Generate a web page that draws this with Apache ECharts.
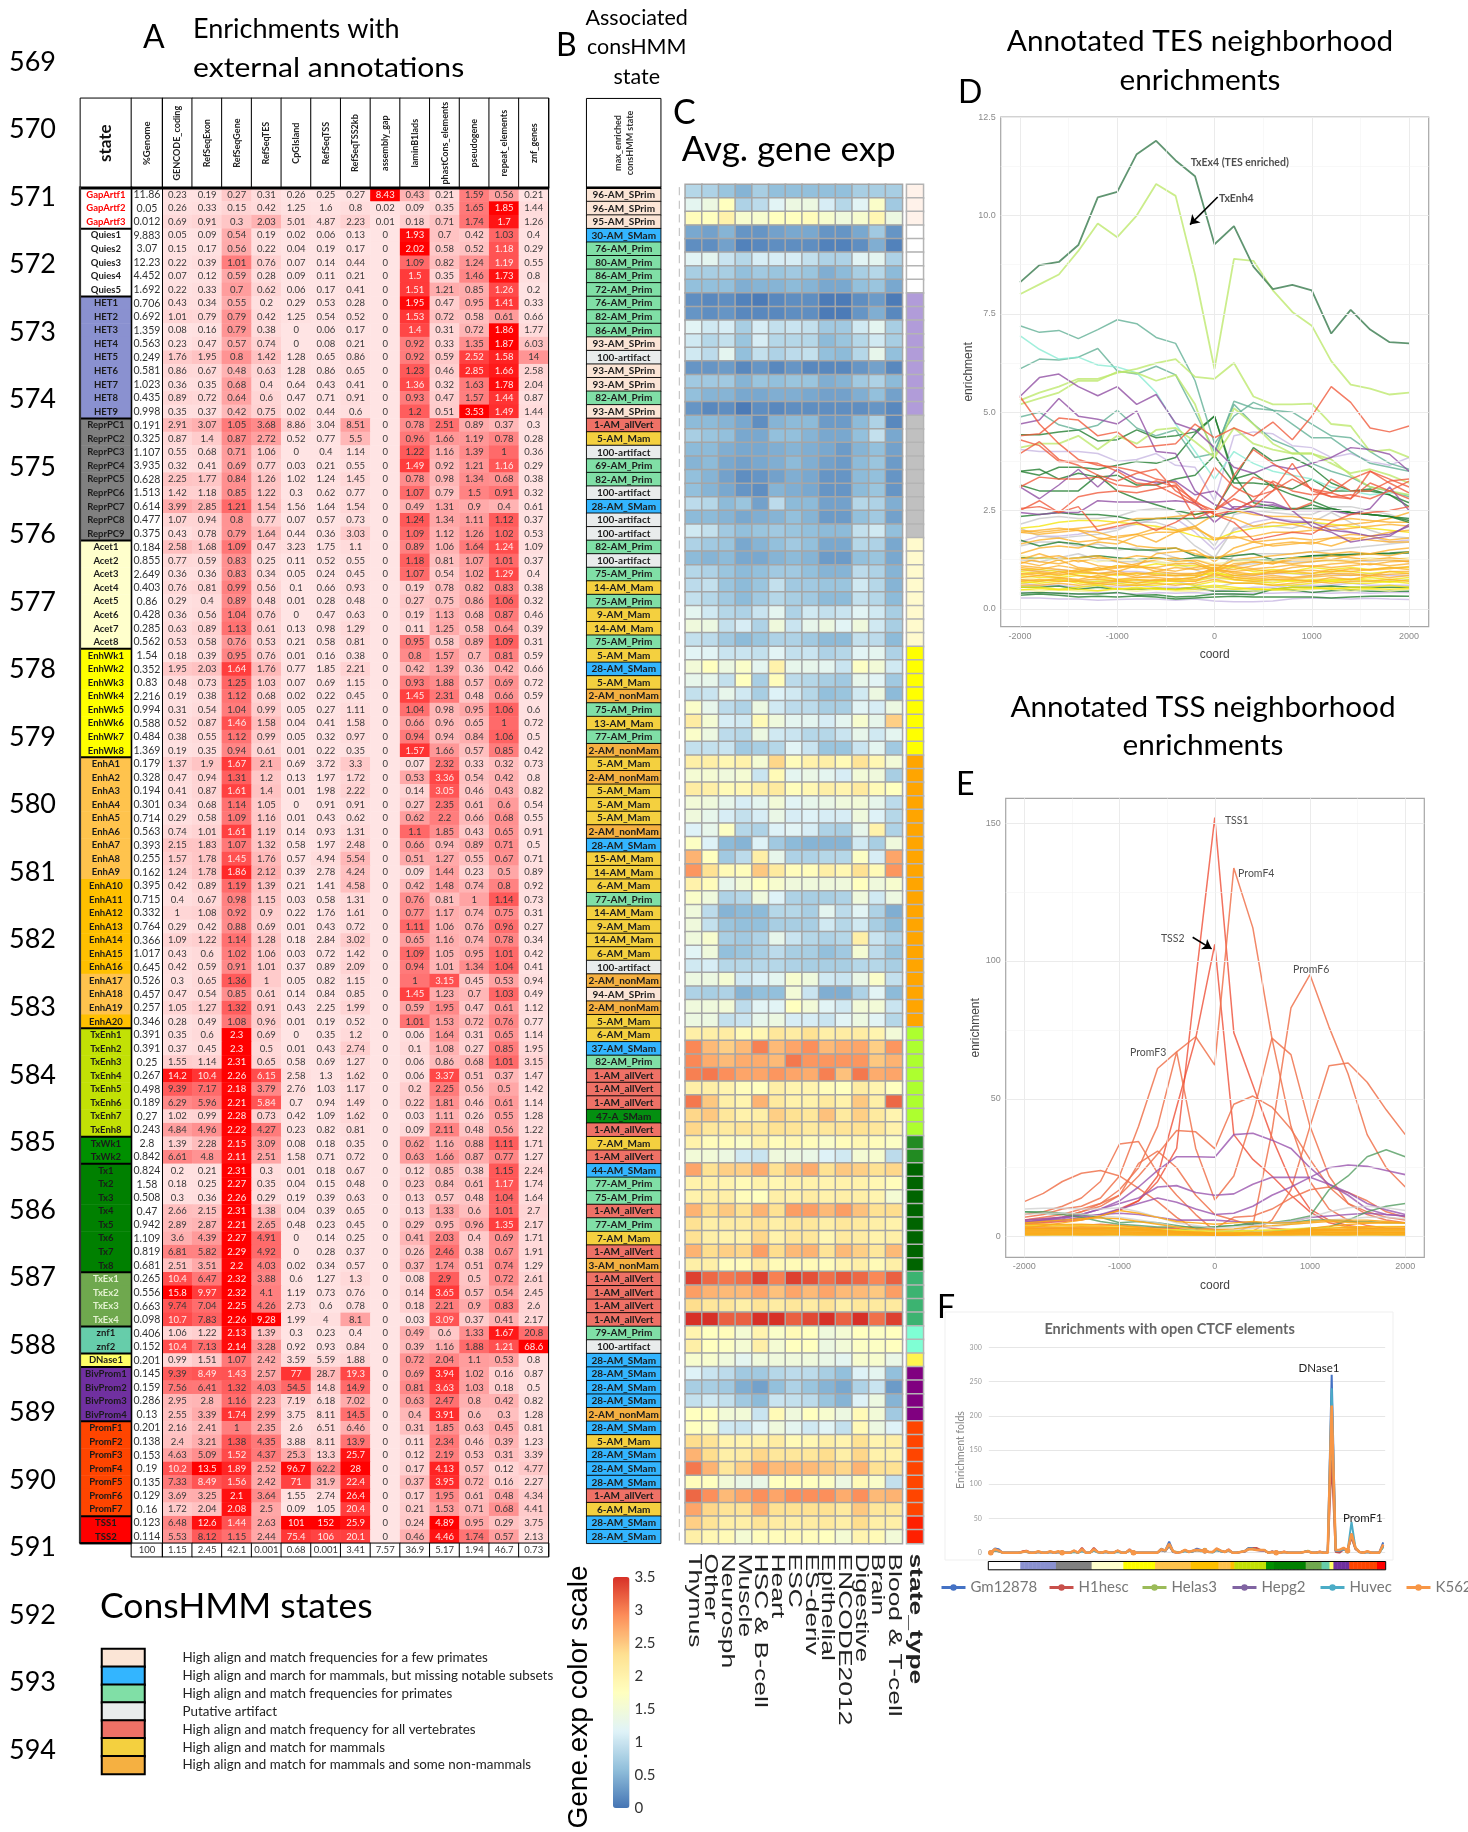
<!DOCTYPE html>
<html><head><meta charset="utf-8">
<style>html,body{margin:0;padding:0;background:#fff}#c{width:1468px;height:1832px}</style>
<script src="https://cdn.jsdelivr.net/npm/echarts@6/dist/echarts.min.js"></script>
</head><body><div id="c"></div>
<script>
const stateNames=["GapArtf1","GapArtf2","GapArtf3","Quies1","Quies2","Quies3","Quies4","Quies5","HET1","HET2","HET3","HET4","HET5","HET6","HET7","HET8","HET9","ReprPC1","ReprPC2","ReprPC3","ReprPC4","ReprPC5","ReprPC6","ReprPC7","ReprPC8","ReprPC9","Acet1","Acet2","Acet3","Acet4","Acet5","Acet6","Acet7","Acet8","EnhWk1","EnhWk2","EnhWk3","EnhWk4","EnhWk5","EnhWk6","EnhWk7","EnhWk8","EnhA1","EnhA2","EnhA3","EnhA4","EnhA5","EnhA6","EnhA7","EnhA8","EnhA9","EnhA10","EnhA11","EnhA12","EnhA13","EnhA14","EnhA15","EnhA16","EnhA17","EnhA18","EnhA19","EnhA20","TxEnh1","TxEnh2","TxEnh3","TxEnh4","TxEnh5","TxEnh6","TxEnh7","TxEnh8","TxWk1","TxWk2","Tx1","Tx2","Tx3","Tx4","Tx5","Tx6","Tx7","Tx8","TxEx1","TxEx2","TxEx3","TxEx4","znf1","znf2","DNase1","BivProm1","BivProm2","BivProm3","BivProm4","PromF1","PromF2","PromF3","PromF4","PromF5","PromF6","PromF7","TSS1","TSS2"];
const stateRuns=[["#FFFFFF",3],["#FFFFFF",5],["#8A91D0",9],["#808080",9],["#FFFFCC",8],["#FFFF00",8],["#FFC34D",9],["#FFC000",7],["#FFC34D",3],["#FFC000",1],["#C2E105",8],["#009000",2],["#008000",8],["#6FA84E",4],["#66CDAA",2],["#FFFF66",1],["#7030A0",4],["#FF4500",7],["#FF0000",2]];
const stateGroupSizes=[3,5,9,9,8,8,20,8,2,8,4,2,1,4,7,2];
const stateTypeRuns=[["#FFF2EA",3],["#FFFFFF",5],["#B19CD9",9],["#C0C0C0",9],["#FFFACD",8],["#FFFF00",8],["#FFA500",20],["#ADFF2F",8],["#228B22",2],["#006400",8],["#3CB371",4],["#7FFFD4",2],["#FFF44F",1],["#800080",4],["#FF4500",7],["#FF2000",2]];
const genomeColumn=["%Genome"];
const enrichColumns=["GENCODE_coding","RefSeqExon","RefSeqGene","RefSeqTES","CpGIsland","RefSeqTSS","RefSeqTSS2kb","assembly_gap","laminB1lads","phastCons_elements","pseudogene","repeat_elements","znf_genes"];
const enrichClip=[15.8,13.5,2.25,9.28,100,150,28,8.43,2.02,4.89,3.53,1.87,40];
const footerValues=[100,1.15,2.45,42.1,0.001,0.68,0.001,3.41,7.57,36.9,5.17,1.94,46.7,0.73];
const enrichRows=[
[11.86,.23,.19,.27,.31,.26,.25,.27,8.43,.43,.21,1.59,.56,.21],[.05,.26,.33,.15,.42,1.25,1.6,.8,.02,.09,.35,1.65,1.85,1.44],[.012,.69,.91,.3,2.03,5.01,4.87,2.23,.01,.18,.71,1.74,1.7,1.26],
[9.883,.05,.09,.54,.19,.02,.06,.13,0,1.93,.7,.42,1.03,.4],[3.07,.15,.17,.56,.22,.04,.19,.17,0,2.02,.58,.52,1.18,.29],[12.23,.22,.39,1.01,.76,.07,.14,.44,0,1.09,.82,1.24,1.19,.55],[4.452,.07,.12,.59,.28,.09,.11,.21,0,1.5,.35,1.46,1.73,.8],[1.692,.22,.33,.7,.62,.06,.17,.41,0,1.51,1.21,.85,1.26,.2],
[.706,.43,.34,.55,.2,.29,.53,.28,0,1.95,.47,.95,1.41,.33],[.692,1.01,.79,.79,.42,1.25,.54,.52,0,1.53,.72,.58,.61,.66],[1.359,.08,.16,.79,.38,0,.06,.17,0,1.4,.31,.72,1.86,1.77],[.563,.23,.47,.57,.74,0,.08,.21,0,.92,.33,1.35,1.87,6.03],[.249,1.76,1.95,.8,1.42,1.28,.65,.86,0,.92,.59,2.52,1.58,14],[.581,.86,.67,.48,.63,1.28,.86,.65,0,1.23,.46,2.85,1.66,2.58],[1.023,.36,.35,.68,.4,.64,.43,.41,0,1.36,.32,1.63,1.78,2.04],[.435,.89,.72,.64,.6,.47,.71,.91,0,.93,.47,1.57,1.44,.87],[.998,.35,.37,.42,.75,.02,.44,.6,0,1.2,.51,3.53,1.49,1.44],
[.191,2.91,3.07,1.05,3.68,8.86,3.04,8.51,0,.78,2.51,.89,.37,.3],[.325,.87,1.4,.87,2.72,.52,.77,5.5,0,.96,1.66,1.19,.78,.28],[1.107,.55,.68,.71,1.06,0,.4,1.14,0,1.22,1.16,1.39,1,.36],[3.935,.32,.41,.69,.77,.03,.21,.55,0,1.49,.92,1.21,1.16,.29],[.628,2.25,1.77,.84,1.26,1.02,1.24,1.45,0,.78,.98,1.34,.68,.38],[1.513,1.42,1.18,.85,1.22,.3,.62,.77,0,1.07,.79,1.5,.91,.32],[.614,3.99,2.85,1.21,1.54,1.56,1.64,1.54,0,.49,1.31,.9,.4,.61],[.477,1.07,.94,.8,.77,.07,.57,.73,0,1.24,1.34,1.11,1.12,.37],[.375,.43,.78,.79,1.64,.44,.36,3.03,0,1.09,1.12,1.26,1.02,.53],
[.184,2.58,1.68,1.09,.47,3.23,1.75,1.1,0,.89,1.06,1.64,1.24,1.09],[.855,.77,.59,.83,.25,.11,.52,.55,0,1.18,.81,1.07,1.01,.37],[2.649,.36,.36,.83,.34,.05,.24,.45,0,1.07,.54,1.02,1.29,.4],[.403,.76,.81,.99,.56,.1,.66,.93,0,.19,.78,.82,.83,.38],[.86,.29,.4,.89,.48,.01,.28,.48,0,.27,.75,.86,1.06,.32],[.428,.36,.56,1.04,.76,0,.47,.63,0,.19,1.13,.68,.87,.46],[.285,.63,.89,1.13,.61,.13,.98,1.29,0,.11,1.25,.58,.64,.39],[.562,.53,.58,.76,.53,.21,.58,.81,0,.95,.58,.89,1.09,.31],
[1.54,.18,.39,.95,.76,.01,.16,.38,0,.8,1.57,.7,.81,.59],[.352,1.95,2.03,1.64,1.76,.77,1.85,2.21,0,.42,1.39,.36,.42,.66],[.83,.48,.73,1.25,1.03,.07,.69,1.15,0,.93,1.88,.57,.69,.72],[2.216,.19,.38,1.12,.68,.02,.22,.45,0,1.45,2.31,.48,.66,.59],[.994,.31,.54,1.04,.99,.05,.27,1.11,0,1.04,.98,.95,1.06,.6],[.588,.52,.87,1.46,1.58,.04,.41,1.58,0,.66,.96,.65,1,.72],[.484,.38,.55,1.12,.99,.05,.32,.97,0,.94,.94,.84,1.06,.5],[1.369,.19,.35,.94,.61,.01,.22,.35,0,1.57,1.66,.57,.85,.42],
[.179,1.37,1.9,1.67,2.1,.69,3.72,3.3,0,.07,2.32,.33,.32,.73],[.328,.47,.94,1.31,1.2,.13,1.97,1.72,0,.53,3.36,.54,.42,.8],[.194,.41,.87,1.61,1.4,.01,1.98,2.22,0,.14,3.05,.46,.43,.82],[.301,.34,.68,1.14,1.05,0,.91,.91,0,.27,2.35,.61,.6,.54],[.714,.29,.58,1.09,1.16,.01,.43,.62,0,.62,2.2,.66,.68,.55],[.563,.74,1.01,1.61,1.19,.14,.93,1.31,0,1.1,1.85,.43,.65,.91],[.393,2.15,1.83,1.07,1.32,.58,1.97,2.48,0,.66,.94,.89,.71,.5],[.255,1.57,1.78,1.45,1.76,.57,4.94,5.54,0,.51,1.27,.55,.67,.71],[.162,1.24,1.78,1.86,2.12,.39,2.78,4.24,0,.09,1.44,.23,.5,.89],[.395,.42,.89,1.19,1.39,.21,1.41,4.58,0,.42,1.48,.74,.8,.92],[.715,.4,.67,.98,1.15,.03,.58,1.31,0,.76,.81,1,1.14,.73],[.332,1,1.08,.92,.9,.22,1.76,1.61,0,.77,1.17,.74,.75,.31],[.764,.29,.42,.88,.69,.01,.43,.72,0,1.11,1.06,.76,.96,.27],[.366,1.09,1.22,1.14,1.28,.18,2.84,3.02,0,.65,1.16,.74,.78,.34],[1.017,.43,.6,1.02,1.06,.03,.72,1.42,0,1.09,1.05,.95,1.01,.42],[.645,.42,.59,.91,1.01,.37,.89,2.09,0,.94,1.01,1.34,1.04,.41],[.526,.3,.65,1.36,1,.05,.82,1.15,0,1,3.15,.45,.53,.94],[.457,.47,.54,.85,.61,.14,.84,.85,0,1.45,1.23,.7,1.03,.49],[.257,1.05,1.27,1.32,.91,.43,2.25,1.99,0,.59,1.95,.47,.61,1.12],[.346,.28,.49,1.08,.96,.01,.19,.52,0,1.01,1.53,.72,.76,.77],
[.391,.35,.6,2.3,.69,0,.35,1.2,0,.06,1.64,.31,.65,1.14],[.391,.37,.45,2.3,.5,.01,.43,2.74,0,.1,1.08,.27,.85,1.95],[.25,1.55,1.14,2.31,.65,.58,.69,1.27,0,.06,.86,.68,1.01,3.15],[.267,14.2,10.4,2.26,6.15,2.58,1.3,1.62,0,.06,3.37,.51,.37,1.47],[.498,9.39,7.17,2.18,3.79,2.76,1.03,1.17,0,.2,2.25,.56,.5,1.42],[.189,6.29,5.96,2.21,5.84,.7,.94,1.49,0,.22,1.81,.46,.61,1.14],[.27,1.02,.99,2.28,.73,.42,1.09,1.62,0,.03,1.11,.26,.55,1.28],[.243,4.84,4.96,2.22,4.27,.23,.82,.81,0,.09,2.11,.48,.56,1.22],
[2.8,1.39,2.28,2.15,3.09,.08,.18,.35,0,.62,1.16,.88,1.11,1.71],[.842,6.61,4.8,2.11,2.51,1.58,.71,.72,0,.63,1.66,.87,.77,1.27],
[.824,.2,.21,2.31,.3,.01,.18,.67,0,.12,.85,.38,1.15,2.24],[1.58,.18,.25,2.27,.35,.04,.15,.48,0,.23,.84,.61,1.17,1.74],[.508,.3,.36,2.26,.29,.19,.39,.63,0,.13,.57,.48,1.04,1.64],[.47,2.66,2.15,2.31,1.38,.04,.39,.65,0,.13,1.33,.6,1.01,2.7],[.942,2.89,2.87,2.21,2.65,.48,.23,.45,0,.29,.95,.96,1.35,2.17],[1.109,3.6,4.39,2.27,4.91,0,.14,.25,0,.41,2.03,.4,.69,1.71],[.819,6.81,5.82,2.29,4.92,0,.28,.37,0,.26,2.46,.38,.67,1.91],[.681,2.51,3.51,2.2,4.03,.02,.34,.57,0,.37,1.74,.51,.74,1.29],
[.265,10.4,6.47,2.32,3.88,.6,1.27,1.3,0,.08,2.9,.5,.72,2.61],[.556,15.8,9.97,2.32,4.1,1.19,.73,.76,0,.14,3.65,.57,.54,2.45],[.663,9.74,7.04,2.25,4.26,2.73,.6,.78,0,.18,2.21,.9,.83,2.6],[.098,10.7,7.83,2.26,9.28,1.99,4,8.1,0,.03,3.09,.37,.41,2.17],
[.406,1.06,1.22,2.13,1.39,.3,.23,.4,0,.49,.6,1.33,1.67,20.8],[.152,10.4,7.13,2.14,3.28,.92,.93,.84,0,.39,1.16,1.88,1.21,68.6],[.201,.99,1.51,1.07,2.42,3.59,5.59,1.88,0,.72,2.04,1.1,.53,.8],
[.145,9.39,8.49,1.43,2.57,77,28.7,19.3,0,.69,3.94,1.02,.16,.87],[.159,7.56,6.41,1.32,4.03,54.5,14.8,14.9,0,.81,3.63,1.03,.18,.5],[.286,2.95,2.8,1.16,2.23,7.19,6.18,7.02,0,.63,2.47,.8,.42,.82],[.13,2.55,3.39,1.74,2.99,3.75,8.11,14.5,0,.4,3.91,.6,.3,1.28],
[.201,2.16,2.41,1,2.35,2.6,6.51,6.46,0,.31,1.85,.63,.45,.81],[.138,2.4,3.21,1.38,4.35,3.88,8.11,13.9,0,.11,2.34,.46,.39,1.23],[.153,4.63,5.09,1.52,4.37,25.3,13.3,25.7,0,.12,2.19,.53,.31,3.39],[.19,10.2,13.5,1.89,2.52,96.7,62.2,28,0,.17,4.13,.57,.12,4.77],[.135,7.33,8.49,1.56,2.42,71,31.9,22.4,0,.37,3.95,.72,.16,2.27],[.129,3.69,3.25,2.1,3.64,1.55,2.74,26.4,0,.17,1.95,.61,.48,4.34],[.16,1.72,2.04,2.08,2.5,.09,1.05,20.4,0,.21,1.53,.71,.68,4.41],
[.123,6.48,12.6,1.44,2.63,101,152,25.9,0,.24,4.89,.95,.29,3.75],[.114,5.53,8.12,1.15,2.44,75.4,106,20.1,0,.46,4.46,1.74,.57,2.13]];
const consLabels=["96-AM_SPrim","96-AM_SPrim","95-AM_SPrim","30-AM_SMam","76-AM_Prim","80-AM_Prim","86-AM_Prim","72-AM_Prim","76-AM_Prim","82-AM_Prim","86-AM_Prim","93-AM_SPrim","100-artifact","93-AM_SPrim","93-AM_SPrim","82-AM_Prim","93-AM_SPrim","1-AM_allVert","5-AM_Mam","100-artifact","69-AM_Prim","82-AM_Prim","100-artifact","28-AM_SMam","100-artifact","100-artifact","82-AM_Prim","100-artifact","75-AM_Prim","14-AM_Mam","75-AM_Prim","9-AM_Mam","14-AM_Mam","75-AM_Prim","5-AM_Mam","28-AM_SMam","5-AM_Mam","2-AM_nonMam","75-AM_Prim","13-AM_Mam","77-AM_Prim","2-AM_nonMam","5-AM_Mam","2-AM_nonMam","5-AM_Mam","5-AM_Mam","5-AM_Mam","2-AM_nonMam","28-AM_SMam","15-AM_Mam","14-AM_Mam","6-AM_Mam","77-AM_Prim","14-AM_Mam","9-AM_Mam","14-AM_Mam","6-AM_Mam","100-artifact","2-AM_nonMam","94-AM_SPrim","2-AM_nonMam","5-AM_Mam","6-AM_Mam","37-AM_SMam","82-AM_Prim","1-AM_allVert","1-AM_allVert","1-AM_allVert","47-A_SMam","1-AM_allVert","7-AM_Mam","1-AM_allVert","44-AM_SMam","77-AM_Prim","75-AM_Prim","1-AM_allVert","77-AM_Prim","7-AM_Mam","1-AM_allVert","3-AM_nonMam","1-AM_allVert","1-AM_allVert","1-AM_allVert","1-AM_allVert","79-AM_Prim","100-artifact","28-AM_SMam","28-AM_SMam","28-AM_SMam","28-AM_SMam","2-AM_nonMam","28-AM_SMam","5-AM_Mam","28-AM_SMam","28-AM_SMam","28-AM_SMam","1-AM_allVert","6-AM_Mam","28-AM_SMam","28-AM_SMam"];
const consSuffixColors={SPrim:"#FBE5D6",SMam:"#33B5FF",Prim:"#80DFA6",artifact:"#E9ECEC",allVert:"#EE7166",Mam:"#F4D03F",nonMam:"#F5B041"};
const consLegendText=["High align and match frequencies for a few primates","High align and march for mammals, but missing notable subsets","High align and match frequencies for primates","Putative artifact","High align and match frequency for all vertebrates","High align and match for mammals","High align and match for mammals and some non-mammals"];
const consLegendColors=["#FBE5D6","#33B5FF","#80DFA6","#E9ECEC","#EE7166","#F4D03F","#F5B041"];
const expColumns=["Thymus","Other","Neurosph","Muscle","HSC & B-cell","Heart","ESC","ES-deriv","Epithelial","ENCODE2012","Digestive","Brain","Blood & T-cell"];
const geneExp=[
[.85,.8,.65,.5,.75,.6,.6,.6,.6,.6,.75,.75,.75],[1.25,1.4,1.75,.8,.9,1.2,1.4,1.4,1.1,.85,1.2,1.65,.7],[1.8,1.75,2,1.6,1.6,1.75,1.75,1.8,1.6,1.45,1.6,1.9,1.4],
[.4,.35,.5,.25,.25,.35,.4,.4,.25,.25,.4,.7,.25],[.2,.2,.35,.1,.15,.2,.2,.2,.1,.1,.2,.45,.1],[1.2,1.25,1,.85,1.1,1.1,1.1,.95,.8,.8,1.2,1.25,.8],[.75,.75,.75,.6,.7,.65,.7,.65,.45,.55,.75,.85,.55],[.6,.6,.6,.45,.5,.5,.55,.5,.4,.4,.6,.65,.4],
[.2,.15,.2,.1,.05,.15,.2,.2,.05,.05,.2,.3,.05],[.25,.2,.25,.15,.15,.15,.2,.2,.05,.05,.25,.45,.15],[1.2,1.05,1.1,.75,1.1,.95,1,.95,.7,.7,1.05,1.25,.75],[1.05,.85,.95,.65,1.1,.85,.85,.85,.55,.65,.85,1.05,.75],[1.05,.9,1.25,.6,.95,.8,.9,.95,.6,.55,.85,1.3,.6],[.25,.25,.3,.15,.25,.15,.25,.15,.15,.15,.25,.35,.15],[.7,.7,.7,.5,.65,.6,.65,.65,.45,.5,.7,.8,.55],[.6,.5,.5,.4,.4,.45,.45,.4,.35,.35,.45,.6,.35],[.25,.15,.2,.05,.2,.15,.2,.2,.2,.2,.2,.25,.15],
[.55,.55,.5,.4,.2,.5,.55,.55,.3,.3,.55,.8,.15],[.75,.65,.6,.4,.4,.6,.6,.5,.4,.4,.6,.95,.4],[.55,.55,.45,.4,.4,.45,.5,.45,.4,.3,.5,.6,.35],[.5,.55,.4,.35,.4,.45,.55,.45,.35,.3,.55,.65,.3],[.6,.5,.35,.2,.25,.35,.45,.4,.25,.25,.55,.6,.25],[.6,.5,.4,.25,.2,.5,.45,.4,.25,.25,.55,.65,.25],[.9,.85,.55,.65,.35,.9,.55,.55,.35,.35,.85,.8,.45],[.55,.55,.5,.4,.45,.5,.6,.5,.3,.3,.6,.7,.35],[1.05,.95,.7,.6,.65,.7,.65,.6,.55,.55,.95,1.05,.6],
[.8,.7,.65,.4,.5,.6,.7,.6,.4,.4,.85,.8,.4],[.55,.5,.55,.4,.4,.5,.55,.5,.3,.3,.6,.65,.4],[.85,.8,.65,.55,.6,.7,.7,.6,.5,.5,.9,.8,.5],[.9,.95,.65,.55,.65,.95,.7,.7,.65,.65,1.05,.85,.5],[.95,.85,.7,.55,.7,.85,.75,.7,.55,.55,.95,.85,.55],[1.25,1.05,.85,.8,1,1.25,.8,1.05,.95,1,1.2,1.05,.75],[1.45,1.4,.95,1.1,.8,1.45,1,1.3,1.4,1.2,1.45,1.05,.75],[.95,.9,.7,.55,.65,.8,.8,.7,.55,.55,.95,.9,.55],
[1.2,1.2,1,1,.95,1.2,.95,1,.8,.85,1.2,1.25,.8],[1.5,1.75,1.4,1.65,1.25,2,1.3,1.3,1.25,1,1.7,1.5,1.05],[1.3,1.3,.95,1.75,.75,1.8,.9,.85,.75,.7,1.3,1.2,.7],[.95,1,1.3,1.05,.75,1.15,1.05,.85,.6,.65,1.05,1.4,.55],[1.65,1.3,.9,.8,1.4,1.05,.9,.9,.75,.75,1.2,1.1,1.4],[2.1,1.55,1.1,1.05,1.85,1.45,1.25,1.25,1.1,1.25,1.6,1.3,2.45],[1.65,1.4,.9,.85,1.4,1.05,1,.85,.85,1,1.3,1.05,1.25],[.95,.95,1,.7,.75,.85,1.2,1,.65,.65,1,1.25,.7],
[2.05,2.05,1.9,2,1.55,2.4,1.8,2,2.05,1.85,2.25,1.9,1.5],[1.55,1.55,1.45,1.55,1,1.85,1.25,1.35,1.25,1.1,1.5,1.45,.75],[2.1,2.05,1.85,1.9,2.05,2.15,1.8,1.9,2.05,1.95,2.15,1.85,1.75],[1.5,1.45,1.3,1.1,1.25,1.5,1.2,1.3,1.35,1.45,1.5,1.3,.9],[1.45,1.3,1.1,.95,1.1,1.35,1.1,1.15,1.1,1.1,1.45,1.15,.85],[1.15,1.3,1.7,.85,.8,1.15,1.2,1.1,.8,.75,1.3,2,.8],[1.7,1.15,.55,.5,1.15,.7,.55,.5,.5,.5,1.05,.75,1.45],[2.65,1.75,.7,.9,2.05,1.3,.8,.8,.85,.85,1.7,1.1,2.75],[2.85,2.3,1.85,1.8,2.5,2.15,1.8,1.8,2.05,1.9,2.3,1.85,2.85],[2,1.8,1.3,1.5,1.75,1.6,1.45,1.45,1.45,1.45,1.75,1.45,1.6],[1.65,1.45,.8,.85,1.45,1.15,.8,.75,.75,.8,1.45,1.05,1.4],[1.45,.9,.5,.55,.55,.85,.85,.75,1.25,.9,1.2,.8,.45],[1.45,.95,.65,.6,.6,.75,.75,.75,1.05,.85,1.05,.75,.55],[1.45,1.6,.75,.7,.8,1.3,1,.85,.8,.85,2.05,1,.8],[1.2,1.45,.6,.65,.75,.9,.75,.75,.6,.7,1.55,.9,.65],[1.05,1.1,.85,.85,.85,.85,.8,.75,.75,.75,.85,.85,.75],[1.4,1.4,1.55,1.05,1.15,1.25,1.6,1.45,1.05,1,1.35,1.65,.95],[.8,.75,.8,.5,.6,.6,1.5,1,.45,.45,.8,1.2,.55],[1.45,1.45,1.5,.9,1.2,1.2,1.75,1.5,1.2,1.05,1.5,1.5,1],[1.4,1.4,.95,1,1.3,1.4,1.1,1.1,1,1.2,1.4,1.2,.85],
[2.05,2.05,2.1,1.85,1.9,2.2,2.1,2.3,2.05,2.1,2.1,1.95,1.5],[2.95,2.6,2.45,2.6,3,2.6,2.75,2.9,2.6,2.7,2.75,2.45,2.85],[2.95,2.7,2.6,2.7,2.7,2.6,3.05,2.85,2.85,2.85,2.85,2.5,2.65],[3,3.05,2.9,2.75,2.75,2.85,2.75,2.7,3,2.55,3.05,2.7,2.75],[2.05,2.05,1.95,1.8,1.75,2.05,1.95,1.95,1.8,1.75,2.1,1.95,1.75],[3.05,2.5,2.05,1.95,2.65,2.15,2,2,2.15,2,2.5,2.05,3.15],[2.4,2.5,2.2,2,2.05,2.45,2.3,2.2,2.55,2.15,2.45,2.15,1.95],[2.4,2.2,2.15,2.25,2.2,2.3,2.25,2.15,2.2,2.25,2.3,2.2,2],
[2,1.8,1.8,1.65,2,1.8,1.9,1.8,1.65,1.8,1.9,1.8,1.7],[1.5,1.5,1.4,1.05,1,1.45,1.4,1.35,1.15,1.05,1.55,1.6,.9],
[2.75,2.3,2.45,2.45,2.7,2.3,2.55,2.7,2.3,2.5,2.45,2.3,2.4],[2,2,1.95,1.85,2,1.9,2,2,1.95,2,2,1.9,1.8],[2,2.05,2.05,1.8,1.75,2.05,2,2.1,2,2.05,2.05,1.95,1.55],[2.65,2.35,2.5,2.3,2.65,2.3,2.8,2.8,2.6,2.8,2.55,2.3,2.35],[2.3,2.05,2.1,2.1,2.25,2.05,2.2,2.2,2.05,2.2,2.15,2.05,2],[2.3,2.05,2,2,2.4,2,2.2,2.2,1.9,2.15,2.1,2,2.05],[2.65,2.35,2.45,2.4,2.8,2.35,2.6,2.65,2.25,2.6,2.45,2.2,2.6],[2.05,2.05,1.8,1.8,2.1,1.85,1.85,1.85,1.8,1.95,2.05,1.85,2.05],
[3.4,3.15,3.05,3.1,3.4,3,3.4,3.3,3.1,3.25,3.15,2.95,3.2],[2.8,2.65,2.6,2.6,2.75,2.55,2.75,2.6,2.75,2.6,2.6,2.5,2.8],[2.35,2.2,2.2,2.05,2.25,2.1,2.2,2.1,2.25,2.05,2.2,2.15,2.15],[3.5,3.5,3.2,3.2,3.5,3.5,3.2,3.35,3.5,3.2,3.5,3.1,3.4],
[1.95,1.75,1.8,1.55,1.95,1.65,1.85,1.75,1.45,1.55,1.75,1.7,1.75],[2.05,1.75,1.7,1.55,2.05,1.55,1.75,1.75,1.4,1.5,1.7,1.7,1.75],[1.6,1.6,1.45,1.25,1.45,1.45,1.45,1.45,1.35,1.25,1.6,1.6,1.35],
[1.15,1,.9,.7,.7,.85,.9,.9,.75,.6,1.15,1.25,.6],[.75,.75,.7,.45,.35,.6,.8,.65,.5,.4,.8,1,.3],[.95,1.05,.95,.7,.55,1,.95,.9,.65,.5,1.15,1.4,.5],[1.75,1.75,1.5,1.5,1,1.85,1.45,1.75,1.6,1.4,1.85,1.5,.7],
[1.75,1.65,1.05,1,1.2,1.45,1.25,1.05,1.2,.95,1.85,1.4,1.15],[2.35,2.25,1.95,1.95,2,2.1,1.85,1.9,2.05,1.95,2.3,1.95,2.05],[2.65,2.35,2.05,2.1,2.4,2.2,2.2,2.2,2.35,2.05,2.4,2,2],[3.05,2.65,2.2,2.45,2.75,2.6,2.6,2.6,2.5,2.4,2.65,2.3,2.3],[1.8,1.75,1.5,1.35,1.35,1.75,1.75,1.75,1.7,1.4,1.85,1.65,.95],[3.15,2.9,2.6,2.75,2.9,2.75,2.9,2.9,2.9,2.7,2.9,2.6,2.65],[2.75,2.4,2.25,2.25,2.65,2.3,2.3,2.3,2.3,2.15,2.5,2.2,2.2],
[2.45,2.25,2.05,2.05,2.25,2.1,2.05,2.1,2.15,2.05,2.35,2.05,2.05],[2.05,1.9,1.85,1.55,1.8,1.8,1.85,1.8,1.75,1.55,1.95,1.85,1.5]];
const expPalette=["#4575B4","#91BFDB","#E0F3F8","#FFFFBF","#FEE090","#FC8D59","#D73027"];
const neighborhoodCoords=[-2000,-1800,-1600,-1400,-1200,-1000,-800,-600,-400,-200,0,200,400,600,800,1000,1200,1400,1600,1800,2000];
/* D: TES neighborhood enrichments */
const tesLavender=[[4.05,4,4,4,3.95,3.75,3.8,3.95,3.65,3.6,2.75,4.4,4.5,4.45,4.15,4.1,3.85,3.95,3.75,3.65,3.85],[1.7,1.85,1.85,1.9,2,2.05,2.15,2.3,2.3,1.95,1.5,2,2.2,2.3,2.25,2.2,2.1,1.95,1.85,1.7,1.75],[.65,.6,.6,.55,.6,.55,.6,.55,.55,.5,.45,.5,.55,.55,.6,.6,.6,.65,.6,.6,.6],[.28,.28,.25,.25,.22,.24,.25,.25,.22,.25,.2,.18,.18,.2,.26,.28,.27,.25,.27,.25,.24],[.42,.42,.4,.38,.42,.4,.38,.42,.4,.42,.38,.38,.4,.4,.42,.42,.4,.42,.4,.42,.42],[1,.95,1,.95,.9,.95,.95,.9,.9,.85,.75,.85,.85,.9,.9,.85,.9,.85,.9,.85,.85]];
const tesGrey=[[2.05,1.85,1.8,1.85,1.9,2,2.2,2.2,2.05,1.6,1.3,2.05,2.1,2.1,2.05,2.2,2.45,2.2,2,1.85,1.8],[2.15,2.3,2.35,2.3,2.3,2.35,2.5,2.55,2.5,2.1,1.6,2.4,2.5,2.45,2.4,2.4,2.6,2.6,2.5,2.4,2.25],[1.6,1.7,1.7,1.6,1.65,1.5,1.55,1.45,1.3,1.15,.95,1.35,1.4,1.4,1.4,1.45,1.5,1.55,1.6,1.65,1.7],[1.25,1.2,1.3,1.4,1.25,1.2,1.2,1.2,1.15,1,.8,1.1,1.15,1.2,1.2,1.2,1.25,1.25,1.2,1.25,1.2],[.75,.7,.75,.7,.7,.65,.7,.7,.7,.6,.55,.65,.65,.7,.75,.7,.75,.75,.7,.7,.75]];
const tesDarkGreenLow=[[.4,.42,.4,.38,.38,.42,.35,.36,.3,.32,.38,.38,.36,.5,.48,.42,.46,.48,.45,.45,.45],[.35,.38,.35,.3,.32,.3,.33,.3,.25,.28,.3,.32,.3,.3,.3,.3,.28,.3,.32,.33,.32],[.55,.55,.58,.5,.55,.5,.5,.52,.5,.55,.45,.45,.45,.5,.55,.55,.58,.55,.55,.55,.55],[1.3,1.3,1.25,1.3,1.35,1.3,1.25,1.3,1.25,1.3,1.3,1.25,1.25,1.25,1.28,1.35,1.35,1.38,1.4,1.4,1.42],[1.75,1.6,1.7,1.65,1.55,1.55,1.5,1.5,1.55,1.35,1.3,1.35,1.4,1.25,1.3,1.35,1.38,1.38,1.4,1.42,1.45],[2.35,2.4,2.45,2.4,2.4,2.35,2.25,2.3,2.3,2.3,2.35,2.45,2.6,2.55,2.55,2.55,2.55,2.45,2.4,2.35,2.3]];
const tesLemon=[[.8,.75,.75,.7,.75,.7,.7,.75,.7,.75,.75,.75,.7,.7,.75,.8,.75,.7,.75,.75,.7],[.5,.45,.5,.45,.45,.5,.45,.5,.45,.45,.5,.5,.45,.5,.45,.5,.5,.45,.5,.45,.5],[1.35,1.3,1.25,1.3,1.2,1.25,1.25,1.2,1.15,1.25,1.15,1.2,1.25,1.2,1.3,1.25,1.2,1.25,1.3,1.25,1.3]];
const tesYellow=[[2.05,2.1,2.2,2.25,2.25,2.2,2.15,2.1,2,1.85,1.75,1.95,2.05,2.1,2.15,2.2,2.15,2.1,2.05,2,1.95],[1,1,.95,.95,1,1.1,1.05,1.15,1.1,1.1,1.05,1.05,.95,1,.95,1.05,1,1.05,1,1.05,1.05],[.85,.8,.8,.85,.8,.75,.75,.7,.75,.8,.95,.8,.75,.75,.7,.75,.7,.75,.8,.75,.8],[.7,.65,.7,.7,.6,.65,.6,.6,.65,.6,.7,.65,.65,.6,.6,.65,.7,.65,.65,.7,.65],[.55,.55,.5,.55,.6,.5,.55,.5,.5,.55,.6,.55,.5,.5,.55,.55,.5,.55,.55,.6,.55],[.95,.9,.85,.9,.9,.85,.9,.9,.85,.85,.9,.85,.9,.95,.9,.9,.95,.95,.9,.95,.9],[.65,.7,.75,.65,.7,.72,.66,.68,.72,.7,.82,.74,.7,.66,.72,.7,.74,.76,.72,.68,.74],[.48,.52,.48,.5,.46,.52,.5,.54,.48,.5,.56,.5,.52,.48,.5,.52,.54,.5,.52,.5,.52]];
const tesOrange=[[2,1.95,2,2.05,2.1,2.2,2.3,2.3,2.35,2.4,2.5,2.5,2.4,2.35,2.35,2.3,2.25,2.3,2.25,2.2,2.2],[1.95,1.9,1.95,2,1.95,1.8,1.9,1.7,1.95,2.1,2.4,2.3,2.1,2.2,2.15,2.05,2.1,2.15,2.2,2.3,2.45],[1.25,1.4,1.25,1.3,1.35,1.2,1.1,1.4,1.45,1.5,1.2,1.55,1.7,1.6,1.65,1.7,1.6,1.75,1.85,1.75,1.8],[1.4,1.55,1.6,1.55,1.7,1.65,1.85,1.95,1.95,2.05,1.8,1.8,1.85,1.95,1.95,2,2,2.05,2.1,2.15,2.1],[1.3,1.2,1.15,1.25,1.1,1.05,1.15,1.25,1.3,1.2,1,1.25,1.3,1.35,1.4,1.45,1.4,1.45,1.4,1.5,1.55],[1.2,1.1,1.25,1.05,1,1.1,1.05,1.05,1.15,1.15,.95,1.15,1.2,1.15,1.3,1.3,1.25,1.35,1.4,1.35,1.45],[1.1,1.05,1,.95,1.05,.95,1.1,.95,1.05,1,1.05,1,1.1,1.2,1.15,1.2,1.25,1.2,1.25,1.3,1.25],[1,.95,.9,1,.9,.95,.85,.95,.9,.9,1,.95,1,.95,1.05,1.1,1.05,1.1,1.15,1.1,1.15],[.9,.85,.95,.85,.8,.9,.8,.85,.85,.85,1.05,.9,.85,.95,.95,.9,1,.95,1,1.05,1],[.8,.85,.8,.75,.85,.75,.8,.8,.75,.8,1,.85,.8,.85,.8,.85,.9,.9,.85,.95,.95],[.7,.75,.7,.7,.65,.7,.65,.75,.7,.7,.9,.75,.7,.75,.75,.7,.8,.75,.85,.8,.85],[.6,.6,.65,.6,.65,.6,.6,.65,.6,.65,.75,.65,.65,.6,.65,.7,.65,.7,.7,.75,.7],[1.65,1.75,1.8,1.7,1.75,1.85,1.9,2.05,2,2.1,1.75,1.85,1.7,1.75,1.8,1.75,1.8,1.8,1.75,1.7,1.7],[1.95,2,2.05,2,1.8,1.75,1.6,1.55,1.55,1.4,1.3,1.4,1.55,1.65,1.7,1.65,1.8,1.9,1.85,1.95,2],[1.15,1.3,1.35,1.2,1.3,1.25,1.35,1.3,1.2,1.25,1.1,1.1,1.2,1.15,1.25,1.25,1.35,1.3,1.25,1.25,1.2],[1.05,1,1.1,1.02,.98,1.04,1.1,1.02,.96,1.05,1.12,1.08,1.02,1.06,1.12,1.08,1.14,1.18,1.12,1.2,1.22],[.88,.92,.86,.94,.9,.88,.92,.86,.84,.9,.98,.94,.88,.9,.96,.98,.94,1.02,.98,1.02,1.08],[.75,.7,.78,.72,.76,.7,.74,.72,.78,.74,.86,.8,.76,.8,.78,.82,.84,.86,.84,.88,.9]];
const tesTx=[[4.43,4.43,4.5,4.55,4.27,4.3,4.55,4.35,4.4,4.5,4.9,3.3,4.1,3.75,3.85,3.6,3.2,3,3.05,2.9,2.6],[3.5,3.4,3.6,3.6,3.55,3.65,3.75,3.7,3.85,4.45,4.9,3.4,2.7,2.6,2.5,2.65,2.5,2.45,2.4,2.35,2.2],[3.5,3.55,3.3,3.45,3.35,3.4,3.15,3.15,3.3,3.4,3.9,3.2,3.2,3.15,3.05,3.3,3,3,3,2.9,2.7],[3.15,3,3,3,3.4,3,2.8,2.65,2.5,2.4,2.5,3.3,3.45,3.1,2.9,2.75,2.55,2.45,2.4,2.35,2.25]];
const tesTeal=[[7.2,7.03,7.08,6.87,7.1,7.35,7.25,6.9,6.75,5.8,4.2,4.9,5.25,5.05,5,4.7,4.4,4.35,4,3.7,3.55],[6.1,6.35,6.33,6.4,6.62,6.05,5.97,6.17,5.95,5,4,5.2,4.7,4.3,4.1,3.7,3.5,3.35,3.1,3,2.85],[4.88,5,4.68,4.55,4.67,5.05,4.6,4.4,4.55,3.85,3.95,5.28,5.1,5.05,4.7,4.35,4.35,4,3.7,3.6,3.5]];
const tesAqua=[[6.95,6.6,6.35,6.4,6.2,6.15,6,5.5,4.7,4,3.3,4,3.7,3.5,3.4,3.3,3.1,3,2.9,2.95,2.9]];
const tesTxEnh=[[5.3,5.5,5.65,5.85,5.85,6,6.1,6.25,6.35,5.9,5.85,6.25,5.4,5.2,5.2,5.22,4.7,4.65,4,4.05,3.85],[5.2,5.35,5.5,5.8,5.8,6.03,6,5.8,5.95,5.2,3.85,5.1,4.7,4.2,3.95,3.95,3.8,3.4,3.1,3,2.9],[4.1,4.2,4.2,4.4,4.05,4.4,4.2,4.55,4.6,4.25,3.85,4.6,4.2,4.05,3.95,3.95,3.7,3.45,3.55,3.4,3.2],[8,8.25,8.5,9.1,9.8,9.45,10,10.8,10.5,8.5,6.1,8.9,8.85,8.1,7.55,7.2,6.3,5.7,5.6,5.45,5.5]];
const tesTxEx4=[8.3,8.74,8.82,9.25,10.46,10.6,11.56,11.9,11.4,11,9.27,9.73,8.7,8.13,8.24,8.1,7,7.6,7.1,6.78,6.75];
const tesPurple=[[5.4,5.88,5.97,5.65,5.42,5.65,5.2,5.45,4.72,4.55,4.1,3.6,3.45,3.65,3.55,3.7,3.85,4.1,4.05,3.93,3.5],[4.7,4.8,5.35,4.9,4.82,4.7,5.03,4,3.95,3,2.65,2.5,2.75,2.7,2.5,2.1,1.95,1.7,1.78,1.85,2.15],[3.1,2.8,3.15,3.55,3.1,3.55,3.3,3.2,3.25,2.9,3,2.55,2.45,2.3,2.2,2.2,2,1.95,1.85,1.9,2.1],[2.45,2.4,2.45,2.45,2.75,2.72,2.72,2.72,2.75,2.7,2.2,2.6,2.6,2.65,2.5,2.5,2.5,2.4,2.55,3.1,2.5]];
const tesRed=[[4.4,4.45,4.85,4.8,4.4,4.5,4.1,4.15,4.2,4.7,4.35,4.6,4.4,4.75,4.3,4.9,5.65,5.25,4.6,4.5,4.65],[5.4,4.7,4.2,3.8,3.65,3.6,3.5,3.3,3.2,2.7,2.5,2.8,2.6,3,3.3,3.05,2.95,2.8,3.5,3.2,2.95],[4.3,4.15,3.75,3.75,3.7,3.5,3.2,3.15,2.9,2.65,2.4,2.2,1.75,1.85,1.95,1.9,2.2,2.4,2.45,2.5,2.6],[3.95,4.25,3.8,3.65,3.4,3.25,3.45,3.55,3,2.7,3.6,3.1,2.85,3,3.7,3,2.85,2.9,2.8,3,3.25],[3.1,3.35,3.3,3.3,3.35,3.15,3.1,3.25,3.1,2.75,2.4,2.5,2.75,3.25,3,2.9,2.95,3.3,3.5,3.3,3.1],[2.55,2.6,2.45,2.6,2,2.1,2.2,2,2.2,2.5,2.45,3.4,4.05,3.7,3.4,3.05,2.85,2.8,3.2,3,2.8],[2.5,2.75,2.45,2.85,2.95,3,2.95,3.05,3.15,2.3,2.5,2.9,3.35,3.2,2.5,2.7,3.3,3,3,3.25,3.3]];
const tesYMajor=[0,2.5,5,7.5,10,12.5],tesYMinor=[1.25,3.75,6.25,8.75,11.25];
/* E: TSS neighborhood enrichments */
const tssOrange=[[4.5,4.6,4.4,4.5,4.2,4,3.4,2.6,1.6,.9,.7,.7,.9,1.4,2.2,3,3.8,4.4,4.8,5,5],[3.6,3.6,3.4,3.6,3.5,3.2,2.8,2.2,1.5,1,.6,.7,1,1.4,2,2.6,3,3.4,3.6,3.5,3.6],[3,3,3.2,3,3.1,2.8,2.6,2.2,1.8,1.2,.9,1,1.2,1.6,2,2.4,2.6,2.9,3,3,3],[2.6,2.6,2.6,2.6,2.5,2.3,2.2,2,1.9,1.6,1.2,1.3,1.5,1.6,1.9,2.2,2.3,2.5,2.4,2.4,2.5],[2.2,2.2,2.2,2.2,2.2,2,2,1.9,1.6,1.6,1.3,1.3,1.3,1.6,1.7,1.9,2,2,2,2,2],[1.8,1.8,1.9,1.8,1.8,1.8,1.6,1.6,1.6,1.3,1.2,1.2,1.3,1.3,1.5,1.6,1.6,1.6,1.7,1.6,1.6],[1.4,1.4,1.4,1.5,1.4,1.4,1.4,1.3,1.2,1.1,1.1,1.1,1.1,1.2,1.2,1.3,1.4,1.4,1.4,1.4,1.4],[1.1,1.1,1,1.1,1.1,1,1.1,1.1,1,.9,.8,.8,.9,1,1.1,1.1,1,1.1,1.1,1,1.1],[.7,.7,.8,.7,.7,.8,.7,.7,.7,.6,.6,.6,.7,.7,.7,.8,.7,.7,.8,.7,.7],[3,4,5,6,7.5,9.5,8.5,7,5.5,5,4.5,5,5.5,5,5,5.5,6,6,6,5.5,5],[5,5.5,6,6.5,6.8,6.5,5.5,4.5,3.5,2.8,2.5,2.8,3.6,4,4.5,5,5.5,5.2,5.2,5,5]];
const tssYellow=[[2.5,2.5,2.6,2.5,2.5,2.4,2.5,2.3,2.5,2.2,2,2.1,2.3,2.4,2.5,2.5,2.4,2.5,2.5,2.4,2.5],[1.2,1.2,1.3,1.2,1.2,1.2,1.1,1.2,1.1,1,1,1,1.1,1.1,1.2,1.2,1.3,1.2,1.2,1.2,1.2],[.6,.6,.6,.7,.6,.6,.6,.6,.5,.6,.5,.5,.5,.6,.6,.6,.6,.7,.6,.6,.6],[4,4,3.9,4,3.8,3.6,3.2,2.8,2.4,1.9,1.7,1.8,2.1,2.4,2.8,3.1,3.3,3.5,3.6,3.7,3.7]];
const tssLemon=[[1.8,1.8,1.9,1.8,1.7,1.8,1.7,1.7,1.6,1.5,1.5,1.5,1.6,1.6,1.7,1.7,1.8,1.8,1.7,1.8,1.8],[.9,.9,.9,.8,.9,.9,.8,.9,.8,.8,.7,.7,.8,.8,.9,.9,.9,.8,.9,.9,.9]];
const tssGrey=[[10,10.3,10.3,10,10,10.5,9,7,5,4,3,3.5,4,5,5.5,7,9,10.5,11,10.5,9.5],[8,8.5,8.5,8.2,7.5,7,6,5,3.5,2.5,2,2.5,3,3.5,4.5,5,6,6.5,7,7,6.5],[2,2,2.2,2,2,1.9,1.8,1.7,1.5,1.2,1,1.1,1.3,1.5,1.6,1.7,1.8,1.9,2,2,2]];
const tssLavender=[[.3,.3,.3,.4,.3,.3,.3,.3,.3,.2,.2,.2,.3,.3,.3,.3,.3,.4,.3,.3,.3],[1.3,1.4,1.3,1.3,1.2,1.2,1.1,1.1,1,.8,.7,.8,.9,1,1.1,1.1,1.2,1.2,1.3,1.3,1.3]];
const tssGreen=[[9,9,8.5,8,7,5,5.5,5,4,3,3.5,4,5,5,6,7.5,17,22,29,31.5,29],[9,8.5,8,7,5.5,4.5,4,3.5,3.5,3.5,3.6,4,4.5,5,5,6,6,5.5,5.5,5,5],[2,2,2,2.5,2.5,2.5,2.5,2.5,2.5,2.5,2,2,2,2,2.5,3,3.5,6,9,11,12],[.8,.8,.9,.8,.8,.8,.7,.7,.7,.6,.6,.6,.7,.7,.8,.8,.8,.9,.8,.8,.8]];
const tssPurple=[[6,6.5,7,8,10,13,18,24,29,29,28.8,37,37.5,35,32,25,19,16,12,9.7,8],[5.5,6,6.5,8,10,12,14,18,18.5,16,15,15.5,19,21.5,21.5,21.5,19,15,10,8,7.5],[5,5.5,6,7,8,10,12,14,12.5,10,8,8.5,11,15,18,21.5,25,26,25.5,24,22.5],[5,6,7,7.5,8,8.5,8,7,6,6,6,5.5,5,5,5.5,7,7.5,8,8.5,8,7.5]];
const tssRed=[[5,5.5,6,6.5,7.5,10,13,20,32,93,152,74,55,36,20,10,6,4,3,2.5,2],[4.5,5,5.5,6,7.5,9.5,13,22,47,72,106,37,28,22,15,9,5,3.5,2.5,2,2]];
const tssPromoter=[[7,8,10,11,14,22,40,61,67,72.5,62.2,133.7,112,72,40,20,10,6,4,3,3],[5,6,7,9,12,17,25,40,67,32,13.3,22,44,72,66,40,22,12,8,6,5],[6,7,8,10,12,15,22,30,38.5,38,31.9,48,51,47,39,28,18,12,9,7,6],[4,4,4,4,4.5,4,3.5,3,2,1.5,2.74,1.5,4,38,83,95,76,59,37,25,18],[3,3,3,3,3,3,3,3,3,1.5,1.05,1,2,6,17,40,62,63,56,46,37],[8,9,11,14,20,33.6,34.5,23,15,8,2,1,1,1.5,2,2,2,2,2,2,2],[12.7,15.7,20,23,24,22,17.5,12.7,7,2.5,1,1,1,1.5,2,2,2,2,2,2,2],[6,6.5,7,9,11,15,26.6,31,25,15,8,6,4,3,2.5,2.5,2.5,2.5,2.5,2.5,2.5],[3,3,3,3,3,3,3,3,3,3,3,7,7.5,10,14,17,18,16,13,9,7]];
const tssYMajor=[0,50,100,150],tssYMinor=[25,75,125];
const xMajorCoords=[-2000,-1000,0,1000,2000],xMinorCoords=[-1500,-500,500,1500];
/* F: CTCF enrichments */
const ctcfNames=["Gm12878","H1hesc","Helas3","Hepg2","Huvec","K562"];
const ctcfColors=["#4472C4","#C8504B","#9BBB59","#8064A2","#4BACC6","#F79646"];
const ctcfLegendLeft=[940,1048,1141,1231,1319,1405];
const ctcfGm12878=[0,6,5,0,0,0,0,0,1,2,0,0,2,0,0,2,0,1,0,0,0,2,0,4,0,0,4,1,0,2,0,0,3,0,0,4,0,0,0,0,0,0,0,6,3,16,2,0,1,3,1,3,6,4,3,1,1,5,3,1,4,0,0,1,2,7,7,4,4,4,0,2,0,0,1,0,0,0,0,1,2,0,0,1,0,0,260,4,2,5,3,28,7,1,0,1,0,0,0,15];
const ctcfH1hesc=[0,3,2,0,0,0,0,0,2,3,0,0,1,0,0,1,0,1,0,0,0,3,0,7,0,0,7,1,0,1,0,0,3,0,0,5,0,0,0,0,0,0,0,4,2,10,1,0,1,4,1,2,4,3,2,1,1,6,3,1,5,0,0,1,2,6,7,7,4,3,0,2,0,0,2,0,0,0,0,1,2,0,0,2,0,0,135,1,0,5,4,22,5,1,0,2,0,0,0,10];
const ctcfHelas3=[0,3,2,0,0,0,0,0,1,1,0,0,1,0,0,1,0,1,0,0,0,1,0,3,0,0,3,1,0,1,0,0,2,0,0,3,0,0,0,0,0,0,0,4,3,10,2,1,1,3,1,2,4,3,4,1,1,4,2,1,3,0,0,1,2,5,5,4,4,4,0,1,0,0,1,0,0,0,0,1,3,0,0,1,0,0,190,3,3,6,3,25,6,1,0,1,0,0,0,9];
const ctcfHepg2=[0,4,3,0,0,0,0,0,1,1,0,0,1,0,0,1,0,1,0,0,0,2,0,3,0,0,4,1,0,1,0,0,2,0,0,3,0,0,0,0,0,0,0,4,2,11,1,0,1,3,1,2,5,3,3,1,1,4,2,1,3,0,0,1,1,5,6,4,3,3,0,1,0,0,1,0,0,0,0,1,2,0,0,1,0,0,203,3,2,6,3,25,6,1,0,1,0,0,0,11];
const ctcfHuvec=[0,4,2,0,0,0,0,0,1,1,0,0,1,0,0,1,0,1,0,0,0,1,0,2,0,0,3,0,0,1,0,0,1,0,0,3,0,0,0,0,0,0,0,5,2,12,1,1,1,2,1,2,4,2,2,1,0,4,2,1,3,0,0,1,2,6,6,4,4,4,0,1,0,0,1,0,0,0,0,1,2,0,0,1,0,0,240,3,3,5,2,45,7,1,0,1,0,0,0,8];
const ctcfK562=[0,5,3,0,0,0,0,0,1,2,0,0,2,0,0,2,0,2,0,0,0,3,0,5,0,0,5,1,0,2,0,0,3,0,0,4,0,0,0,0,0,0,0,5,3,13,2,0,1,4,1,3,4,3,3,1,1,6,3,1,4,0,0,1,2,5,5,4,4,4,0,1,0,0,1,0,0,0,0,1,2,0,0,1,0,0,215,4,4,7,3,28,7,1,0,2,0,0,0,12];
const excelRowNumbers=[569,570,571,572,573,574,575,576,577,578,579,580,581,582,583,584,585,586,587,588,589,590,591,592,593,594];

/* ---------- helpers ---------- */
const expand=runs=>runs.flatMap(([c,n])=>Array(n).fill(c));
const stateColors=expand(stateRuns), stateTypeColors=expand(stateTypeRuns);
const consColor=s=>s.startsWith("47-")?"#048F10":consSuffixColors[s.split(/[-_]/).pop()];
const pinkRed=t=>{const a=Math.round(228*(1-t));return `rgb(255,${a},${a})`;};
const LATO="Lato, sans-serif", ARIAL="'Liberation Sans', Arial, sans-serif";
const grid=[],xAxis=[],yAxis=[],series=[],graphic=[];
function addGrid(l,t,w,h,xData,yData,xo,yo,go){
  const i=grid.length;
  grid.push(Object.assign({left:l,top:t,width:w,height:h,show:false},go||{}));
  xAxis.push(Object.assign({gridIndex:i,type:'category',data:xData,show:false},xo||{}));
  yAxis.push(Object.assign({gridIndex:i,type:'category',data:yData,show:false,inverse:true},yo||{}));
  return i;
}
function heat(g,data,label,item,extra){
  series.push(Object.assign({type:'heatmap',coordinateSystem:'cartesian2d',xAxisIndex:g,yAxisIndex:g,data,progressive:0,silent:true,
    label:Object.assign({show:!!label},label||{}),itemStyle:item||{},emphasis:{disabled:true}},extra||{}));
  return series.length-1;
}
function T(text,x,y,size,o){o=o||{};
  graphic.push({type:'text',x,y,rotation:o.rot||0,scaleX:o.sx||1,z:200,silent:true,style:{text,fontSize:size,fontFamily:o.fam||LATO,fontWeight:o.w||'normal',fill:o.c||'#000',align:o.a||'left',verticalAlign:'middle',textAlign:o.a||'left',textVerticalAlign:'middle'}});
}
function R(x,y,w,h,o){graphic.push({type:'rect',shape:{x,y,width:w,height:h},z:190,silent:true,style:Object.assign({fill:'#000'},o||{})});}
function rotatedColumnLabels(g,names,weight){
  series.push({type:'custom',coordinateSystem:'cartesian2d',xAxisIndex:g,yAxisIndex:g,silent:true,clip:false,z:8,data:names.map((n,j)=>[j,0]),
    renderItem(p,api){const cs=p.coordSys,c=api.coord([api.value(0),0]);
      return {type:'text',x:c[0],y:cs.y+cs.height+10,rotation:-Math.PI/2,scaleX:1.47,
        style:{text:names[p.dataIndex],fontSize:18,fontFamily:ARIAL,fontWeight:weight,fill:'#222',align:'left',verticalAlign:'middle'}};}});
}

/* ---------- row numbers and titles ---------- */
excelRowNumbers.forEach((n,i)=>T(String(n),9,62+i*67.52,27));
T("A",143,38,32);
T("Enrichments with",193,29,27); T("external annotations",193,68,27,{sx:1.115});
T("B",556,46,32);
["Associated","consHMM","state"].forEach((s,i)=>T(s,636.7,18+i*29.5,21.5,{a:'center'}));
T("C",673,113,34);
T("Avg. gene exp",681.7,150,35);
T("D",958,93,32);
["Annotated TES neighborhood","enrichments"].forEach((s,i)=>T(s,1200,41+i*39,29.7,{a:'center'}));
T("E",956,785,32);
["Annotated TSS neighborhood","enrichments"].forEach((s,i)=>T(s,1203,707+i*38,29.7,{a:'center'}));
T("F",937,1308,32);
T("ConsHMM states",100,1607,35.5);
T("Gene.exp color scale",579,1697,28,{rot:Math.PI/2,a:'center',fam:ARIAL});

/* ---------- A: enrichment table ---------- */
const tTop=188,tH=1355.3,hTop=98.3,hH=89.7,colX=[80.4,131.4,162.5,548.6],fTop=1543.3,fH=13.4;
const hdr=addGrid(colX[0],hTop,colX[1]-colX[0],hH,["state"],[0]);
heat(hdr,[[0,0,0]],{rotate:90,fontSize:17,fontWeight:'bold',fontFamily:LATO,color:'#111',formatter:()=>"state"},{color:'#fff',borderColor:'#000',borderWidth:1});
const hdrG=addGrid(colX[1],hTop,colX[2]-colX[1],hH,genomeColumn,[0]);
heat(hdrG,[[0,0,0]],{rotate:90,fontSize:9.5,fontWeight:'bold',fontFamily:LATO,color:'#222',formatter:()=>genomeColumn[0]},{color:'#fff',borderColor:'#000',borderWidth:1});
const hdrE=addGrid(colX[2],hTop,colX[3]-colX[2],hH,enrichColumns,[0]);
heat(hdrE,enrichColumns.map((c,i)=>[i,0,i]),{rotate:90,fontSize:9,fontWeight:'bold',fontFamily:LATO,color:'#222',formatter:p=>enrichColumns[p.value[0]]},{color:'#fff',borderColor:'#000',borderWidth:1});

const bS=addGrid(colX[0],tTop,colX[1]-colX[0],tH,["state"],stateNames);
const stateLabelColor=n=>n.startsWith("Gap")?"#FF0000":n.startsWith("TxEx")?"#E4F2D2":"#1a1a1a";
heat(bS,stateNames.map((n,i)=>({value:[0,i,i],itemStyle:{color:stateColors[i]},label:{color:stateLabelColor(n)}})),{fontSize:9.5,fontWeight:'bold',fontFamily:LATO,formatter:p=>stateNames[p.value[1]]});
let cum=0;const groupEnds=stateGroupSizes.map(n=>(cum+=n)-1);
series.push({type:'custom',coordinateSystem:'cartesian2d',xAxisIndex:bS,yAxisIndex:bS,data:groupEnds.map(r=>[0,r]),silent:true,z:20,
  renderItem(p,api){const cs=p.coordSys,c=api.coord([0,api.value(1)]),s=api.size([0,1]);const y=c[1]+s[1]/2;
    return {type:'line',shape:{x1:cs.x,y1:y,x2:cs.x+cs.width,y2:y},style:{stroke:'#000',lineWidth:2}};}});
const bG=addGrid(colX[1],tTop,colX[2]-colX[1],tH,genomeColumn,stateNames);
heat(bG,stateNames.map((n,i)=>[0,i,enrichRows[i][0]]),{fontSize:10.5,fontFamily:LATO,color:'#333',formatter:p=>String(p.value[2])},{color:'#fff'});
const bE=addGrid(colX[2],tTop,colX[3]-colX[2],tH,enrichColumns,stateNames);
heat(bE,stateNames.flatMap((n,i)=>enrichColumns.map((c,j)=>{const v=enrichRows[i][j+1],t=Math.min(1,v/enrichClip[j]);
  return {value:[j,i,v],itemStyle:{color:pinkRed(t)},label:{color:t>.62?'#FFE8E8':'#3a3a3a'}};})),{fontSize:9.5,fontFamily:LATO,formatter:p=>String(p.value[2])});
const fG=addGrid(colX[1],fTop,colX[2]-colX[1],fH,genomeColumn,[0]);
heat(fG,[[0,0,footerValues[0]]],{fontSize:9.5,fontFamily:LATO,color:'#333',formatter:p=>String(p.value[2])},{color:'#fff',borderColor:'#000',borderWidth:1});
const fE=addGrid(colX[2],fTop,colX[3]-colX[2],fH,enrichColumns,[0]);
heat(fE,enrichColumns.map((c,j)=>[j,0,footerValues[j+1]]),{fontSize:9.5,fontFamily:LATO,color:'#333',formatter:p=>String(p.value[2])},{color:'#fff',borderColor:'#000',borderWidth:1});
R(colX[0]-1,186.5,colX[3]-colX[0]+1.5,3);
R(colX[0]-1.5,186.5,2.2,tTop+tH-186.5,{fill:'#333'});
R(colX[1]-.7,186.5,1.6,tTop+tH-186.5);
R(colX[2]-.5,98,1,fTop+fH-98);
R(colX[3]-.5,98,1,fTop+fH-98);
R(colX[0]-1,tTop+tH-1,colX[1]-colX[0]+1,2);

/* ---------- B: associated consHMM state ---------- */
const bX=586.7,bW=74;
const bh=addGrid(bX,98.7,bW,88.5,["h"],[0]);
heat(bh,[[0,0,0]],{rotate:90,fontSize:9,fontWeight:'bold',fontFamily:LATO,color:'#333',lineHeight:12,formatter:()=>"max_enriched\nconsHMM state"},{color:'#fff',borderColor:'#000',borderWidth:1});
const bb=addGrid(bX,tTop,bW,tH,["c"],stateNames);
heat(bb,consLabels.map((s,i)=>({value:[0,i,i],itemStyle:{color:consColor(s)}})),{fontSize:10,fontWeight:'bold',fontFamily:LATO,color:'#1c1c1c',formatter:p=>consLabels[p.value[1]]},{borderColor:'#000',borderWidth:.9});
R(bX-.5,186.5,bW+1,2.6);

/* ---------- C: gene expression ---------- */
const cTop=184.4,cH=1359;
const cg=addGrid(685.3,cTop,217,cH,expColumns,stateNames);
const expIdx=heat(cg,stateNames.flatMap((n,i)=>expColumns.map((c,j)=>[j,i,geneExp[i][j]])),null,{borderColor:'#A6A6A6',borderWidth:1.5});
const stateTypeColumn=["state_type"];
const stg=addGrid(906.7,cTop,16.6,cH,stateTypeColumn,stateNames);
heat(stg,stateNames.map((n,i)=>({value:[0,i,i],itemStyle:{color:stateTypeColors[i]}})),null,{borderColor:'#B4B4B4',borderWidth:1.5});
rotatedColumnLabels(cg,expColumns,'normal');
rotatedColumnLabels(stg,stateTypeColumn,'bold');
series.push({type:'custom',coordinateSystem:'cartesian2d',xAxisIndex:cg,yAxisIndex:cg,silent:true,clip:false,data:stateNames.map((n,i)=>[0,i]),
  renderItem(p,api){const cs=p.coordSys,c=api.coord([0,api.value(1)]),s=api.size([0,1]);
    return {type:'line',shape:{x1:cs.x-6,y1:c[1]-s[1]*.3,x2:cs.x-6,y2:c[1]+s[1]*.3},style:{stroke:'#BBB',lineWidth:1}};}});
/* colour bar */
const cb=grid.length;
grid.push({left:613,top:1577,width:16.5,height:231,show:false});
xAxis.push({gridIndex:cb,type:'value',show:false,min:0,max:1});
yAxis.push({gridIndex:cb,type:'value',min:0,max:3.5,interval:.5,position:'right',axisLine:{show:false},axisTick:{show:false},splitLine:{show:false},axisLabel:{fontSize:15,margin:5,fontFamily:LATO,color:'#333'}});

/* ---------- ConsHMM legend ---------- */
const lg=addGrid(102,1649,42.5,125,["s"],consLegendText,{}, {show:true,position:'right',axisLine:{show:false},axisTick:{show:false},axisLabel:{interval:0,margin:38,fontSize:13.4,fontFamily:LATO,color:'#222'}});
heat(lg,consLegendColors.map((c,i)=>({value:[0,i,i],itemStyle:{color:c}})),null,{borderColor:'#000',borderWidth:2});

/* ---------- D / E line panels ---------- */
function panel(l,t,w,h,xr,yr,yMajor,yMinor,yFmt,yName,yGap){
  const i=grid.length;
  grid.push({left:l,top:t,width:w,height:h,show:true,borderColor:'#A6A6A6',borderWidth:1.2,backgroundColor:'#fff'});
  const lab={fontSize:9,color:'#8a8a8a',fontFamily:ARIAL};
  xAxis.push({gridIndex:i,type:'value',min:xr[0],max:xr[1],splitLine:{show:false},axisLine:{show:false},
    axisTick:{show:true,length:3,lineStyle:{color:'#999'},customValues:xMajorCoords},
    axisLabel:Object.assign({customValues:xMajorCoords,margin:5,formatter:v=>String(v)},lab),
    name:'coord',nameLocation:'middle',nameGap:22,nameTextStyle:{fontSize:12,color:'#444',fontFamily:ARIAL}});
  yAxis.push({gridIndex:i,type:'value',min:yr[0],max:yr[1],splitLine:{show:false},axisLine:{show:false},
    axisTick:{show:true,length:3,lineStyle:{color:'#999'},customValues:yMajor},
    axisLabel:Object.assign({customValues:yMajor,margin:5,formatter:yFmt},lab),
    name:yName,nameLocation:'middle',nameGap:yGap,nameTextStyle:{fontSize:12,color:'#444',fontFamily:ARIAL}});
  const ml=(o,c,w2)=>({[o]:c,lineStyle:{color:w2>.7?'#EBEBEB':'#F4F4F4',width:w2}});
  series.push({type:'line',xAxisIndex:i,yAxisIndex:i,data:[],z:1,silent:true,showSymbol:false,
    markLine:{silent:true,symbol:'none',animation:false,label:{show:false},lineStyle:{type:'solid'},
      data:[...xMajorCoords.map(v=>ml('xAxis',v,1)),...xMinorCoords.map(v=>ml('xAxis',v,.6)),...yMajor.map(v=>ml('yAxis',v,1)),...yMinor.map(v=>ml('yAxis',v,.6))]}});
  return i;
}
function drawLines(g,lines,color,w,op){
  lines.forEach(vals=>series.push({type:'line',xAxisIndex:g,yAxisIndex:g,showSymbol:false,symbol:'none',silent:true,z:3,
    data:vals.map((v,k)=>[neighborhoodCoords[k],v]),lineStyle:{color,width:w||1.5,opacity:op||.78}}));
}
function notes(g,items,font,arrow){
  series.push({type:'scatter',xAxisIndex:g,yAxisIndex:g,symbolSize:0,silent:true,z:6,
    data:items.map(a=>({value:[a[1],a[2]],label:{show:true,position:'right',distance:0,formatter:a[0],fontSize:font.s,fontWeight:font.w,fontFamily:LATO,color:'#222'}})),
    markLine:{silent:true,animation:false,symbol:['none','arrow'],symbolSize:9,label:{show:false},lineStyle:{color:'#000',width:1.6,type:'solid'},
      data:[[{coord:arrow[0]},{coord:arrow[1]}]]}});
}
const D=panel(1000.7,117.2,428,509.4,[-2198,2202],[-.45,12.5],tesYMajor,tesYMinor,v=>v.toFixed(1),'enrichment',22);
drawLines(D,tesLavender,'#C6B6E2');drawLines(D,tesGrey,'#C6C6C6');drawLines(D,tesDarkGreenLow,'#1E7B2C');drawLines(D,tesLemon,'#F6EFA2');
drawLines(D,tesYellow,'#F4E60A');drawLines(D,tesOrange,'#FBAF2A');drawLines(D,tesTx,'#1E7B2C');drawLines(D,tesTeal,'#5FAE94');drawLines(D,tesAqua,'#86EBD2');
drawLines(D,tesTxEnh,'#BCE86A',1.8);drawLines(D,[tesTxEx4],'#4F8A62',1.8,.9);drawLines(D,tesPurple,'#8E4BA2');drawLines(D,tesRed,'#F0583A');
notes(D,[["TxEx4 (TES enriched)",-245,11.35],["TxEnh4",46,10.43]],{s:10.5,w:'bold'},[[33,10.47],[-252,9.77]]);
const E=panel(1005.7,798.3,418.6,459,[-2195,2200],[-7.5,159],tssYMajor,tssYMinor,v=>String(v),'enrichment',16);
drawLines(E,tssRed,'#EE4A32');drawLines(E,tssPromoter,'#F0734E',1.5,.85);drawLines(E,tssPurple,'#9A55AE',1.6,.8);drawLines(E,tssGreen,'#4E9A5C');
drawLines(E,tssGrey,'#D0D0D0');drawLines(E,tssLavender,'#C8B8E4');drawLines(E,tssLemon,'#F6EFA2');drawLines(E,tssYellow,'#F6E22A');drawLines(E,tssOrange,'#FBA919',1.4,.9);
notes(E,[["TSS1",107,151],["PromF4",245,131.6],["TSS2",-565,108],["PromF6",821,97],["PromF3",-890,66.8]],{s:10.5,w:'normal'},[[-232,108.6],[-33,104.4]]);

/* ---------- F: CTCF ---------- */
R(945,1312,448,248,{fill:'none',stroke:'#EFEFEF',lineWidth:1});
T("Enrichments with open CTCF elements",1169.6,1329,14.5,{a:'center',w:'bold',c:'#666'});
T("DNase1",1298.6,1368,11.5,{c:'#222'});
T("PromF1",1343,1518,11.5,{c:'#222'});
const F=grid.length;
grid.push({left:988.8,top:1347.3,width:396.4,height:205.4,show:false});
xAxis.push({gridIndex:F,type:'category',data:stateNames,show:false});
yAxis.push({gridIndex:F,type:'value',min:0,max:300,interval:50,axisLine:{show:false},axisTick:{show:false},splitLine:{lineStyle:{color:'#E6E6E6',width:1}},
  axisLabel:{fontSize:7,color:'#999',margin:7,fontFamily:LATO},name:'Enrichment folds',nameLocation:'middle',nameGap:20,nameTextStyle:{fontSize:10.5,color:'#888',fontFamily:LATO}});
[ctcfGm12878,ctcfH1hesc,ctcfHelas3,ctcfHepg2,ctcfHuvec,ctcfK562].forEach((vals,i)=>series.push({type:'line',name:ctcfNames[i],xAxisIndex:F,yAxisIndex:F,data:vals,symbol:'circle',symbolSize:i===5?5.5:4.5,showSymbol:true,silent:true,z:3+i,
  lineStyle:{color:ctcfColors[i],width:i===5?2.6:2},itemStyle:{color:ctcfColors[i]}}));
const strip=addGrid(988.8,1562,396.4,7.3,stateNames,[0]);
heat(strip,stateNames.map((n,i)=>({value:[i,0,i],itemStyle:{color:stateColors[i]}})));
R(988.3,1561.5,397.4,8.3,{fill:'none',stroke:'#000',lineWidth:1});

const chart=echarts.init(document.getElementById('c'),null,{renderer:'canvas',width:1468,height:1832});
chart.setOption({animation:false,backgroundColor:'#fff',grid,xAxis,yAxis,series,graphic:{elements:graphic},
  tooltip:{show:false},
  legend:ctcfNames.map((n,i)=>({left:ctcfLegendLeft[i],top:1580,padding:0,data:[n],itemWidth:24,itemHeight:8,lineStyle:{width:3},textStyle:{fontSize:15,color:'#777',fontFamily:LATO}})),
  visualMap:[{type:'continuous',seriesIndex:expIdx,dimension:2,min:0,max:3.5,inRange:{color:expPalette},left:613,top:1577,itemWidth:16.5,itemHeight:231,padding:0,calculable:false,show:true,text:null,hoverLink:false}]
});
</script></body></html>
